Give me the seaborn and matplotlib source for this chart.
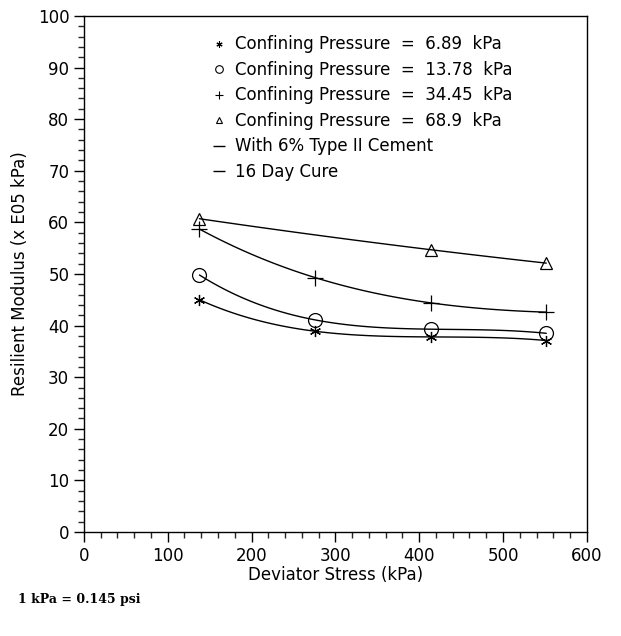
import matplotlib
matplotlib.use("Agg")
import matplotlib.pyplot as plt
from matplotlib.lines import Line2D
from matplotlib.ticker import MultipleLocator
import seaborn as sns
import pandas as pd

# deviator stress (kPa) and resilient modulus (x E05 kPa)
stress = [137.9, 275.8, 413.7, 551.6]
mr_689 = [45.0, 38.9, 37.8, 37.1]
mr_1378 = [49.8, 41.1, 39.3, 38.5]
mr_3445 = [58.7, 49.3, 44.4, 42.6]
stress_tri = [137.9, 413.7, 551.6]
mr_689_tri = [60.7, 54.7, 52.1]

series = [
    ("6.89", stress, mr_689, (6, 2, 0), 8),
    ("13.78", stress, mr_1378, "o", 10),
    ("34.45", stress, mr_3445, "+", 11),
    ("68.9", stress_tri, mr_689_tri, "^", 9),
]

sns.set_style("ticks")
plt.rcParams['font.family'] = ['DejaVu Sans']
plt.rcParams['text.color'] = 'black'
plt.rcParams['axes.labelcolor'] = 'black'

fig = plt.figure(figsize=(6.21, 6.36), dpi=100)
ax = fig.add_axes([0.135, 0.1635, 0.81, 0.8115])

for name, xs, ys, mk, ms in series:
    df = pd.DataFrame({"x": xs, "y": ys})
    sns.regplot(data=df, x="x", y="y", order=len(xs) - 1, ci=None, scatter=False,
                line_kws={"color": "black", "lw": 1.0}, ax=ax)
    ax.plot(xs, ys, linestyle="none", marker=mk, markersize=ms,
            markerfacecolor="none", markeredgecolor="black", markeredgewidth=0.9)

ax.set_xlim(0, 600)
ax.set_ylim(0, 100)
ax.xaxis.set_major_locator(MultipleLocator(100))
ax.xaxis.set_minor_locator(MultipleLocator(20))
ax.yaxis.set_major_locator(MultipleLocator(10))
ax.yaxis.set_minor_locator(MultipleLocator(2))
ax.tick_params(which="major", length=7, width=1, labelsize=12, colors="black")
ax.tick_params(which="minor", length=4, width=1)
for s in ax.spines.values():
    s.set_linewidth(1.0)
    s.set_color("black")

ax.set_xlabel("Deviator Stress (kPa)", fontsize=12, labelpad=1)
ax.set_ylabel("Resilient Modulus (x E05 kPa)", fontsize=12, labelpad=6)

handles = []
labels = []
for name, xs, ys, mk, ms in series:
    handles.append(Line2D([], [], linestyle="none", marker=mk, markersize=ms * 0.55,
                          markerfacecolor="none", markeredgecolor="black",
                          markeredgewidth=0.8))
    labels.append("Confining Pressure  =  " + name + "  kPa")
for t in ["With 6% Type II Cement", "16 Day Cure"]:
    handles.append(Line2D([], [], linestyle="none", marker="_", markersize=9,
                          markeredgecolor="black"))
    labels.append(t)
ax.legend(handles, labels, loc="upper left", bbox_to_anchor=(0.245, 0.975),
          frameon=False, fontsize=12, handlelength=0.6, handletextpad=0.7,
          labelspacing=0.45, borderaxespad=0)

fig.text(0.029, 0.052, "1 kPa = 0.145 psi", family="serif", fontweight="bold",
         fontsize=9)

fig.savefig("out.png", dpi=100)
